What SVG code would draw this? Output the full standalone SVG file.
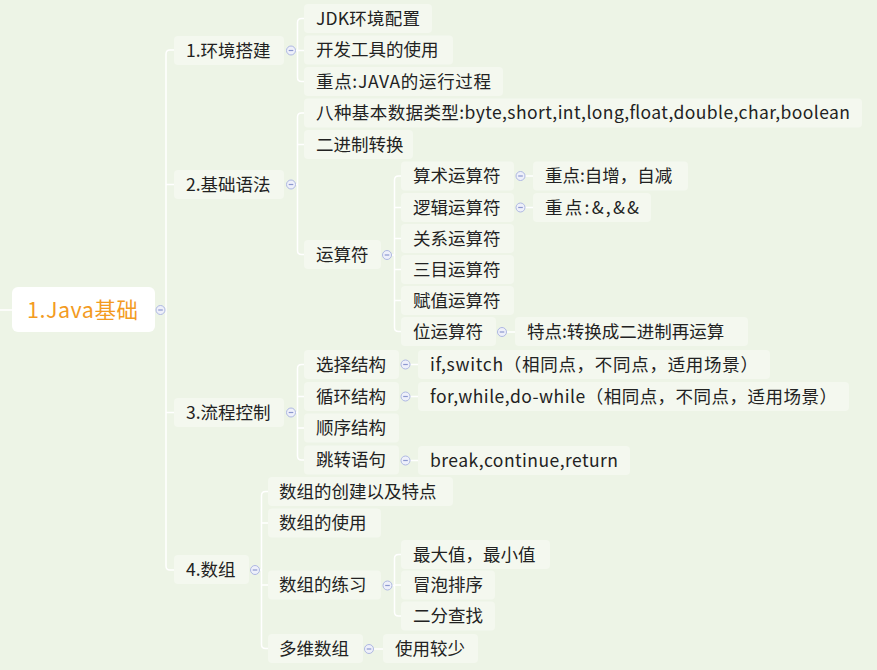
<svg xmlns="http://www.w3.org/2000/svg" width="877" height="670" viewBox="0 0 877 670">
<style>
.bg{fill:#EDF4E6}
.box{fill:#F4F8EF}
.root{fill:#FFFFFF}
.t{font-family:"Noto Sans CJK SC","Liberation Sans",sans-serif;font-size:17.5px;fill:#222}
.rt{font-family:"Noto Sans CJK SC","Liberation Sans",sans-serif;font-size:21.5px;fill:#F39B1F}
.ln{fill:none;stroke:#FFFFFF;stroke-width:1.5}
.cc{fill:#EEF0FA;stroke:#AEB8E2;stroke-width:1}
.cm{stroke:#8C98CF;stroke-width:1.2}
</style>
<defs>
<g id="col"><circle class="cc" r="4.5"/><line class="cm" x1="-2.3" y1="0" x2="2.3" y2="0"/></g>
</defs>
<rect class="bg" width="877" height="670"/>
<g id="connectors">
<path class="ln" d="M0 310 H12"/>
<path class="ln" d="M165 310 H166 M174 50 H170 Q166 50 166 54 V566 Q166 570 170 570 H174 M166 184.5 H174 M166 412.5 H174"/>
<path class="ln" d="M295.5 50.5 H304 M304 18.5 H301.5 Q297.5 18.5 297.5 22.5 V77.5 Q297.5 81.5 301.5 81.5 H304"/>
<path class="ln" d="M295.5 184.5 H297.5 M304 113 H301.5 Q297.5 113 297.5 117 V250.5 Q297.5 254.5 301.5 254.5 H304 M297.5 144.5 H304"/>
<path class="ln" d="M295.5 412.5 H297.5 M304 364.5 H301.5 Q297.5 364.5 297.5 368.5 V456 Q297.5 460 301.5 460 H304 M297.5 396.5 H304 M297.5 428 H304"/>
<path class="ln" d="M259.5 570 H261.5 M268 491.5 H265.5 Q261.5 491.5 261.5 495.5 V644.5 Q261.5 648.5 265.5 648.5 H268 M261.5 523 H268 M261.5 585 H268"/>
<path class="ln" d="M391.5 255 H394.5 M401 176 H398.5 Q394.5 176 394.5 180 V327.5 Q394.5 331.5 398.5 331.5 H401 M394.5 207.5 H401 M394.5 238.5 H401 M394.5 269.5 H401 M394.5 300.5 H401"/>
<path class="ln" d="M525 176 H533 M525 207.5 H533 M506.5 332 H515"/>
<path class="ln" d="M410 364.5 H418 M410 396.5 H418 M410 460.5 H418"/>
<path class="ln" d="M392 585.5 H394.5 M401 554.5 H398.5 Q394.5 554.5 394.5 558.5 V612 Q394.5 616 398.5 616 H401 M394.5 585 H401"/>
<path class="ln" d="M373.5 649 H383"/>
</g>
<g id="root"><rect class="root" x="12" y="287" width="143" height="45" rx="6"/><text class="rt" x="27" y="318" textLength="111" lengthAdjust="spacing">1.Java基础</text><use href="#col" x="160.5" y="310"/></g>
<g id="n1"><rect class="box" x="174" y="36" width="110" height="29" rx="4"/><text class="t" x="186" y="56.5">1.环境搭建</text><use href="#col" x="291" y="50.5"/></g>
<g id="n1a"><rect class="box" x="304" y="4" width="128" height="29" rx="4"/><text class="t" x="316" y="24.5" textLength="104" lengthAdjust="spacing">JDK环境配置</text></g>
<g id="n1b"><rect class="box" x="304" y="35.5" width="149" height="29" rx="4"/><text class="t" x="316" y="56">开发工具的使用</text></g>
<g id="n1c"><rect class="box" x="304" y="67" width="199" height="29" rx="4"/><text class="t" x="316" y="87.5" textLength="175" lengthAdjust="spacing">重点:JAVA的运行过程</text></g>
<g id="n2"><rect class="box" x="174" y="170" width="110" height="29" rx="4"/><text class="t" x="186" y="190.5">2.基础语法</text><use href="#col" x="291" y="184.5"/></g>
<g id="n2a"><rect class="box" x="304" y="98.5" width="558" height="29" rx="4"/><text class="t" x="316" y="119" textLength="534" lengthAdjust="spacing">八种基本数据类型:byte,short,int,long,float,double,char,boolean</text></g>
<g id="n2b"><rect class="box" x="304" y="130" width="109" height="29" rx="4"/><text class="t" x="316" y="150.5">二进制转换</text></g>
<g id="n2c"><rect class="box" x="304" y="240" width="77" height="29" rx="4"/><text class="t" x="316" y="260.5">运算符</text><use href="#col" x="387" y="255"/></g>
<g id="n2c1"><rect class="box" x="401" y="161.5" width="113" height="29" rx="4"/><text class="t" x="413" y="182">算术运算符</text><use href="#col" x="520.5" y="176"/></g>
<g id="n2c1a"><rect class="box" x="533" y="161.5" width="155" height="29" rx="4"/><text class="t" x="545" y="182">重点:自增，自减</text></g>
<g id="n2c2"><rect class="box" x="401" y="193" width="113" height="29" rx="4"/><text class="t" x="413" y="213.5">逻辑运算符</text><use href="#col" x="520.5" y="207.5"/></g>
<g id="n2c2a"><rect class="box" x="533" y="193" width="118" height="29" rx="4"/><text class="t" x="545" y="213.5" textLength="94" lengthAdjust="spacing">重点:&amp;,&amp;&amp;</text></g>
<g id="n2c3"><rect class="box" x="401" y="224" width="113" height="29" rx="4"/><text class="t" x="413" y="244.5">关系运算符</text></g>
<g id="n2c4"><rect class="box" x="401" y="255" width="113" height="29" rx="4"/><text class="t" x="413" y="275.5">三目运算符</text></g>
<g id="n2c5"><rect class="box" x="401" y="286" width="113" height="29" rx="4"/><text class="t" x="413" y="306.5">赋值运算符</text></g>
<g id="n2c6"><rect class="box" x="401" y="317" width="95" height="29" rx="4"/><text class="t" x="413" y="337.5">位运算符</text><use href="#col" x="502" y="332"/></g>
<g id="n2c6a"><rect class="box" x="515" y="317" width="233" height="29" rx="4"/><text class="t" x="527" y="337.5">特点:转换成二进制再运算</text></g>
<g id="n3"><rect class="box" x="174" y="398" width="110" height="29" rx="4"/><text class="t" x="186" y="418.5">3.流程控制</text><use href="#col" x="291" y="412.5"/></g>
<g id="n3a"><rect class="box" x="304" y="350" width="95" height="29" rx="4"/><text class="t" x="316" y="370.5">选择结构</text><use href="#col" x="405.5" y="364.5"/></g>
<g id="n3a1"><rect class="box" x="418" y="350" width="352" height="29" rx="4"/><text class="t" x="430" y="370.5" textLength="328" lengthAdjust="spacing">if,switch（相同点，不同点，适用场景）</text></g>
<g id="n3b"><rect class="box" x="304" y="382" width="95" height="29" rx="4"/><text class="t" x="316" y="402.5">循环结构</text><use href="#col" x="405.5" y="396.5"/></g>
<g id="n3b1"><rect class="box" x="418" y="382" width="431" height="29" rx="4"/><text class="t" x="430" y="402.5" textLength="407" lengthAdjust="spacing">for,while,do-while（相同点，不同点，适用场景）</text></g>
<g id="n3c"><rect class="box" x="304" y="413.5" width="95" height="29" rx="4"/><text class="t" x="316" y="434">顺序结构</text></g>
<g id="n3d"><rect class="box" x="304" y="445.5" width="95" height="29" rx="4"/><text class="t" x="316" y="466">跳转语句</text><use href="#col" x="405.5" y="460.5"/></g>
<g id="n3d1"><rect class="box" x="418" y="446" width="212" height="29" rx="4"/><text class="t" x="430" y="466.5" textLength="188" lengthAdjust="spacing">break,continue,return</text></g>
<g id="n4"><rect class="box" x="174" y="555" width="75" height="29" rx="4"/><text class="t" x="186" y="575.5">4.数组</text><use href="#col" x="255" y="570"/></g>
<g id="n4a"><rect class="box" x="268" y="477" width="185" height="29" rx="4"/><text class="t" x="279" y="497.5">数组的创建以及特点</text></g>
<g id="n4b"><rect class="box" x="268" y="508.5" width="113" height="29" rx="4"/><text class="t" x="279" y="529">数组的使用</text></g>
<g id="n4c"><rect class="box" x="268" y="570.5" width="113" height="29" rx="4"/><text class="t" x="279" y="591">数组的练习</text><use href="#col" x="387.5" y="585.5"/></g>
<g id="n4c1"><rect class="box" x="401" y="540" width="149" height="29" rx="4"/><text class="t" x="413" y="560.5">最大值，最小值</text></g>
<g id="n4c2"><rect class="box" x="401" y="570.5" width="94" height="29" rx="4"/><text class="t" x="413" y="591">冒泡排序</text></g>
<g id="n4c3"><rect class="box" x="401" y="601.5" width="94" height="29" rx="4"/><text class="t" x="413" y="622">二分查找</text></g>
<g id="n4d"><rect class="box" x="268" y="634" width="95" height="29" rx="4"/><text class="t" x="279" y="654.5">多维数组</text><use href="#col" x="369" y="649"/></g>
<g id="n4d1"><rect class="box" x="383" y="634" width="95" height="29" rx="4"/><text class="t" x="395" y="654.5">使用较少</text></g>
</svg>
